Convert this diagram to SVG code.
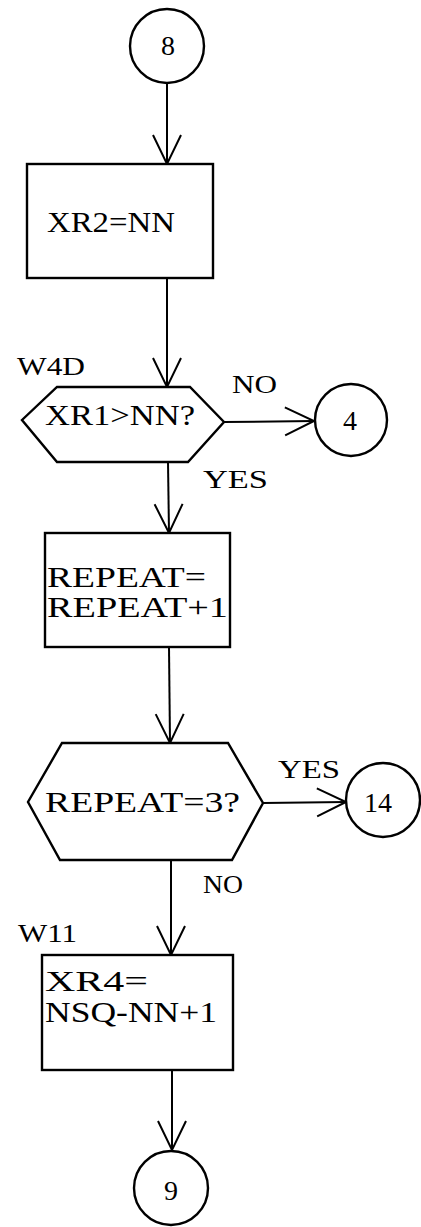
<svg xmlns="http://www.w3.org/2000/svg" width="421" height="1227" viewBox="0 0 421 1227">
<style>
.s{fill:#fff;stroke:#000;stroke-width:2.4}
.c{fill:none;stroke:#000;stroke-width:2}
text{font-family:"Liberation Serif","Times New Roman",serif;fill:#000}
.t{font-size:30px}
.l{font-size:26px}
.m{text-anchor:middle;font-size:28px}
</style>
<defs>
<marker id="arr" markerUnits="userSpaceOnUse" markerWidth="40" markerHeight="40" viewBox="-35 -20 40 40" refX="0" refY="0" orient="auto" overflow="visible">
<path d="M-29,-14 L0,0 L-29,14" fill="none" stroke="#000" stroke-width="2"/>
</marker>
</defs>
<rect width="421" height="1227" fill="#fff"/>
<g id="connectors">
<line class="c" x1="167" y1="84" x2="167" y2="164" marker-end="url(#arr)"/>
<line class="c" x1="167" y1="278" x2="167" y2="387" marker-end="url(#arr)"/>
<line class="c" x1="224" y1="422" x2="314" y2="421" marker-end="url(#arr)"/>
<line class="c" x1="168" y1="462" x2="169" y2="533" marker-end="url(#arr)"/>
<line class="c" x1="169" y1="647" x2="170" y2="743" marker-end="url(#arr)"/>
<line class="c" x1="263" y1="803" x2="346" y2="802" marker-end="url(#arr)"/>
<line class="c" x1="171" y1="860" x2="171" y2="955" marker-end="url(#arr)"/>
<line class="c" x1="172" y1="1070" x2="172" y2="1150" marker-end="url(#arr)"/>
<text class="l" x="232" y="393" textLength="45" lengthAdjust="spacingAndGlyphs">NO</text>
<text class="l" x="203" y="488" textLength="65" lengthAdjust="spacingAndGlyphs">YES</text>
<text class="l" x="278" y="778" textLength="62" lengthAdjust="spacingAndGlyphs">YES</text>
<text class="l" x="203" y="893" textLength="40" lengthAdjust="spacingAndGlyphs">NO</text>
</g>
<g id="n8">
<circle class="s" cx="167" cy="46" r="37"/>
<text class="m" x="168" y="55">8</text>
</g>
<g id="b1">
<rect class="s" x="27" y="164" width="186" height="114"/>
<text class="t" x="47" y="232" textLength="128" lengthAdjust="spacingAndGlyphs">XR2=NN</text>
</g>
<g id="d1">
<text class="l" x="17" y="375" textLength="68" lengthAdjust="spacingAndGlyphs">W4D</text>
<polygon class="s" points="57,387 190,387 224,422 188,462 57,462 22,420"/>
<text class="t" x="45" y="425" textLength="150" lengthAdjust="spacingAndGlyphs">XR1&gt;NN?</text>
</g>
<g id="n4">
<circle class="s" cx="351" cy="420" r="36"/>
<text class="m" x="350" y="430">4</text>
</g>
<g id="b2">
<rect class="s" x="45" y="533" width="185" height="114"/>
<text class="t" x="47" y="587" textLength="159" lengthAdjust="spacingAndGlyphs">REPEAT=</text>
<text class="t" x="47" y="617" textLength="181" lengthAdjust="spacingAndGlyphs">REPEAT+1</text>
</g>
<g id="d2">
<polygon class="s" points="62,743 228,743 263,803 232,860 60,860 28,802"/>
<text class="t" x="45" y="812" textLength="195" lengthAdjust="spacingAndGlyphs">REPEAT=3?</text>
</g>
<g id="n14">
<circle class="s" cx="383" cy="800" r="37"/>
<text class="m" x="378" y="812">14</text>
</g>
<g id="b3">
<text class="l" x="18" y="942" textLength="59" lengthAdjust="spacingAndGlyphs">W11</text>
<rect class="s" x="42" y="955" width="191" height="115"/>
<text class="t" x="45" y="991" textLength="103" lengthAdjust="spacingAndGlyphs">XR4=</text>
<text class="t" x="45" y="1022" textLength="172" lengthAdjust="spacingAndGlyphs">NSQ-NN+1</text>
</g>
<g id="n9">
<circle class="s" cx="171" cy="1188" r="37"/>
<text class="m" x="171" y="1200">9</text>
</g>
</svg>
